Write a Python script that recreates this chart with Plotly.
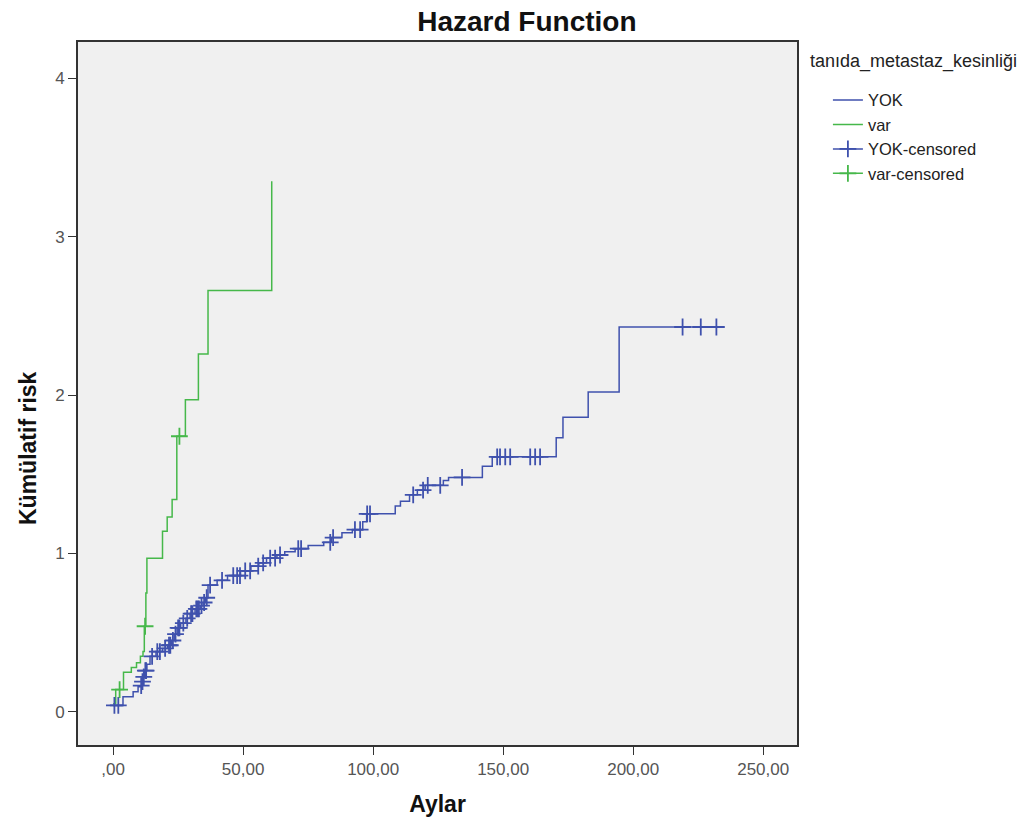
import numpy as np
import plotly.graph_objects as go

# ---- data ----
# YOK group: cumulative hazard step function
yok_t = [0, 3.8, 7.7, 9.6, 10.5, 11.0, 11.5, 12.0, 13.0, 14.2, 16.5, 19, 21, 22.5, 23.5, 24.6,
         26, 28, 29.6, 31.5, 33.5, 34.6, 35.5, 36.5, 40, 44, 49, 53, 56, 59, 63, 66, 70, 75,
         81, 84, 88, 92, 96, 97.5, 108.5, 110.5, 114, 117, 120, 127, 129, 142, 145.8, 170.4,
         173, 182.7, 194.6, 233.5]
yok_h = [0.04, 0.095, 0.126, 0.158, 0.165, 0.19, 0.22, 0.26, 0.30, 0.35, 0.38, 0.40, 0.42, 0.45,
         0.49, 0.53, 0.56, 0.59, 0.62, 0.65, 0.67, 0.69, 0.72, 0.80, 0.83, 0.86, 0.89, 0.92,
         0.94, 0.97, 0.99, 1.01, 1.03, 1.05, 1.07, 1.10, 1.13, 1.15, 1.20, 1.25, 1.30, 1.33,
         1.37, 1.40, 1.43, 1.46, 1.48, 1.55, 1.61, 1.73, 1.86, 2.02, 2.43, 2.43]
yok_cens_t = [0.5, 2.0, 10.8, 11.3, 11.8, 12.4, 12.7, 15, 17, 18, 20, 21.5, 22, 23, 24, 25, 25.5,
              27, 28.5, 30, 30.5, 32, 32.5, 33, 34, 35, 36, 37.3, 41.9, 46.2, 47.7, 48.8, 50.8,
              52.7, 55.8, 57.7, 60.4, 62.3, 64.2, 71.2, 72.3, 83.5, 84.6, 93, 95, 97.7, 98.8,
              115.4, 119.2, 121, 125.8, 134.2, 147.7, 148.8, 150.8, 152.7, 160.4, 162.3, 164.2,
              219, 226, 232]

# var group
var_t = [0, 1, 4, 7, 9, 10.5, 11.5, 12, 12.6, 13.0, 19, 20.8, 22.7, 24.5, 27.8, 32.8, 36.5, 61]
var_h = [0.05, 0.14, 0.25, 0.28, 0.31, 0.35, 0.38, 0.54, 0.75, 0.97, 1.14, 1.23, 1.34, 1.74,
         1.97, 2.26, 2.66, 3.35]
var_cens_t = [2.5, 12.3, 25.5]

x_tickvals = [0, 50, 100, 150, 200, 250]
x_ticktext = [",00", "50,00", "100,00", "150,00", "200,00", "250,00"]
y_tickvals = [0, 1, 2, 3, 4]

BLUE = "#3f51ad"
GREEN = "#46b84a"


def step_at(ts, hs, t):
    i = np.searchsorted(np.asarray(ts), t, side="right") - 1
    return hs[max(i, 0)]


def gapped(ts_cens, ts, hs):
    xs, ys = [], []
    for t in ts_cens:
        xs += [t, None]
        ys += [step_at(ts, hs, t), None]
    return xs, ys


fig = go.Figure()
fig.add_trace(go.Scatter(x=yok_t, y=yok_h, mode="lines", line=dict(color=BLUE, width=1.5, shape="hv"),
                         name="YOK"))
fig.add_trace(go.Scatter(x=var_t, y=var_h, mode="lines", line=dict(color=GREEN, width=1.5, shape="hv"),
                         name="var"))
cx, cy = gapped(yok_cens_t, yok_t, yok_h)
fig.add_trace(go.Scatter(x=cx, y=cy, mode="lines+markers", line=dict(color=BLUE, width=1.5),
                         marker=dict(symbol="cross-thin", size=12, line=dict(color=BLUE, width=1.8)),
                         name="YOK-censored", connectgaps=False))
cx, cy = gapped(var_cens_t, var_t, var_h)
fig.add_trace(go.Scatter(x=cx, y=cy, mode="lines+markers", line=dict(color=GREEN, width=1.5),
                         marker=dict(symbol="cross-thin", size=12, line=dict(color=GREEN, width=1.8)),
                         name="var-censored", connectgaps=False))

fig.update_layout(
    width=1027, height=829,
    margin=dict(l=78, r=230, t=42, b=84),
    paper_bgcolor="white", plot_bgcolor="#f0f0f0",
    font=dict(family="Liberation Sans, Arial, sans-serif", color="#333"),
    title=dict(text="<b>Hazard Function</b>", x=0.513, xanchor="center", y=0.975, yanchor="middle",
               font=dict(size=28, color="#111")),
    xaxis=dict(range=[-13.5, 263], tickvals=x_tickvals, ticktext=x_ticktext, ticks="outside",
               ticklen=8, tickcolor="#333", tickwidth=1.2, showgrid=False, zeroline=False,
               showline=True, linecolor="#333", linewidth=1.6, mirror=True,
               tickfont=dict(size=17, color="#555"),
               title=dict(text="<b>Aylar</b>", font=dict(size=23, color="#111"), standoff=18)),
    yaxis=dict(range=[-0.21, 4.23], tickvals=y_tickvals, ticks="outside", ticklen=8,
               tickcolor="#333", tickwidth=1.2, showgrid=False, zeroline=False,
               showline=True, linecolor="#333", linewidth=1.6, mirror=True,
               tickfont=dict(size=17, color="#555")),
    legend=dict(x=1.043, y=0.942, xanchor="left", yanchor="top", bgcolor="rgba(0,0,0,0)",
                font=dict(size=16.5, color="#222"), tracegroupgap=0, itemwidth=30),
    showlegend=True,
    annotations=[
        dict(text="<b>Kümülatif risk</b>", textangle=-90, xref="paper", yref="paper",
             x=-0.0695, y=0.4225, xanchor="center", yanchor="middle", showarrow=False,
             font=dict(size=23, color="#111")),
        dict(text="tanıda_metastaz_kesinliği", xref="paper", yref="paper",
             x=1.0153, y=0.9716, xanchor="left", yanchor="middle", showarrow=False,
             font=dict(size=18, color="#222")),
    ],
)

fig.write_html("out.html")
